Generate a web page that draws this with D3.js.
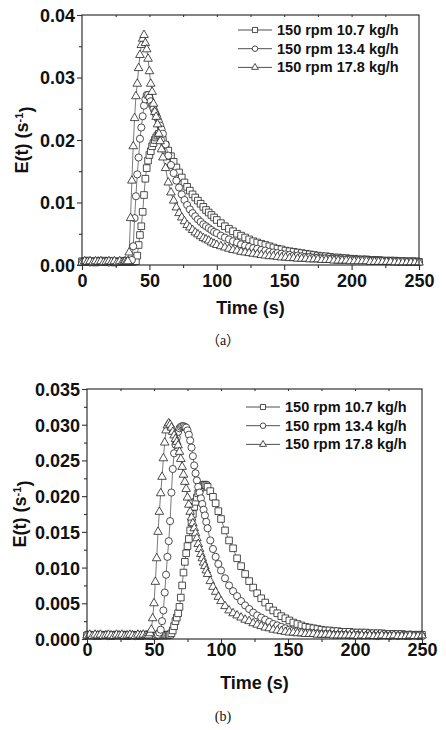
<!DOCTYPE html>
<html>
<head>
<meta charset="utf-8">
<script src="https://cdn.jsdelivr.net/npm/d3@7"></script>
<style>
  body { margin: 0; background: #fff; }
  svg { display: block; }
  text { font-family: "Liberation Sans", Arial, sans-serif; font-weight: bold; fill: #111; }
  .caption { font-family: "Liberation Serif", "Times New Roman", "Noto Sans CJK SC", serif; font-weight: normal; }
</style>
</head>
<body>
<div class="chart"></div>
<script>
// legend labels
var seriesNames = ["150 rpm 10.7 kg/h", "150 rpm 13.4 kg/h", "150 rpm 17.8 kg/h"];

var xTicks = [0, 50, 100, 150, 200, 250];
var yTicksA = [0, 0.01, 0.02, 0.03, 0.04];
var yTicksB = [0, 0.005, 0.010, 0.015, 0.020, 0.025, 0.030, 0.035];

// panel (a): time (s) and E(t) (1/s)
var timeA = [0,2,4,6,8,10,12,14,16,18,20,22,24,26,28,30,
  31,32,33,34,35,36,37,38,39,40,41,42,43,44,45,46,47,48,49,50,51,52,53,54,55,56,57,58,59,60,
  62,64,66,68,70,72,74,76,78,80,82,84,86,88,90,92,94,96,98,100,
  103,106,109,112,115,118,121,124,127,130,133,136,139,142,145,148,151,154,157,160,
  163,166,169,172,175,178,181,184,187,190,193,196,199,202,205,208,211,214,217,220,
  223,226,229,232,235,238,241,244,247,250];

var sqA = [.0006,.0005,.0007,.0005,.0006,.0004,.0006,.0005,.0007,.0005,.0006,.0005,.0004,.0006,.0005,.0006,
  .0005,.0006,.0005,.0005,.0006,.0005,.0006,.0005,.0006,.0006,.0015,.0032,.0048,.0062,.0085,.0112,.0138,.0155,.0167,.0176,.0182,.019,.0195,.02,.0204,.0207,.021,.0207,.0203,.02,
  .0192,.0183,.0174,.0165,.0156,.0148,.014,.0132,.0125,.0119,.0113,.0108,.0103,.0098,.0093,.0088,.0084,.008,.0076,.0072,
  .0067,.0062,.0058,.0054,.005,.0047,.0044,.0041,.0038,.0036,.0034,.0032,.003,.0028,.0026,.0025,.0023,.0022,.0021,.002,
  .0019,.0018,.0017,.0016,.0015,.0014,.0014,.0013,.0012,.0012,.0011,.0011,.001,.001,.0009,.0009,.0009,.0008,.0008,.0008,
  .0007,.0007,.0007,.0007,.0006,.0006,.0006,.0006,.0006,.0005];

var ciA = [.0005,.0006,.0005,.0004,.0006,.0005,.0007,.0005,.0005,.0006,.0004,.0006,.0005,.0005,.0006,.0005,
  .0006,.0005,.0005,.0006,.0005,.0006,.0008,.003,.0075,.011,.0145,.0172,.0202,.022,.0238,.0255,.0265,.0272,.0272,.0268,.0262,.0255,.025,.0245,.024,.0235,.0229,.0223,.0217,.021,
  .0193,.0175,.016,.0147,.0135,.0124,.0113,.0104,.0096,.0089,.0083,.0078,.0073,.0069,.0065,.0062,.0059,.0056,.0053,.0051,
  .0047,.0044,.0041,.0038,.0036,.0033,.0031,.0029,.0027,.0026,.0024,.0023,.0021,.002,.0019,.0018,.0017,.0016,.0015,.0015,
  .0014,.0013,.0013,.0012,.0012,.0011,.0011,.001,.001,.001,.0009,.0009,.0009,.0008,.0008,.0008,.0008,.0007,.0007,.0007,
  .0007,.0006,.0006,.0006,.0006,.0006,.0005,.0005,.0005,.0005];

var trA = [.0004,.0006,.0005,.0006,.0004,.0006,.0005,.0006,.0004,.0005,.0006,.0005,.0006,.0004,.0006,.0005,
  .0005,.0006,.0005,.0006,.002,.0075,.0135,.019,.0235,.027,.029,.0315,.0336,.0352,.0362,.0368,.0355,.0345,.033,.031,.029,.0277,.0258,.0245,.0237,.0225,.021,.0198,.0185,.0172,
  .0155,.0132,.0116,.0103,.0092,.0083,.0076,.007,.0064,.006,.0056,.0052,.0049,.0046,.0043,.0041,.0039,.0036,.0034,.0032,
  .003,.0028,.0026,.0024,.0023,.0021,.002,.0019,.0018,.0017,.0016,.0015,.0014,.0014,.0013,.0012,.0012,.0011,.0011,.001,
  .001,.001,.0009,.0009,.0009,.0008,.0008,.0008,.0007,.0007,.0007,.0007,.0006,.0006,.0006,.0006,.0006,.0005,.0005,.0005,
  .0005,.0005,.0005,.0004,.0004,.0004,.0004,.0004,.0004,.0004];

// panel (b)
var timeB = [0,2,4,6,8,10,12,14,16,18,20,22,24,26,28,30,32,34,36,38,40,42,44,
  45,46,47,48,49,50,51,52,53,54,55,56,57,58,59,60,61,62,63,64,65,66,67,68,69,70,
  71,72,73,74,75,76,77,78,79,80,81,82,83,84,85,86,87,88,89,90,
  92,94,96,98,100,
  103,106,109,112,115,118,121,124,127,130,133,136,139,142,145,148,151,154,157,160,
  163,166,169,172,175,178,181,184,187,190,193,196,199,202,205,208,211,214,217,220,
  223,226,229,232,235,238,241,244,247,250];

var sqB = [.0005,.0006,.0005,.0005,.0004,.0006,.0005,.0006,.0005,.0004,.0005,.0006,.0005,.0005,.0006,.0004,.0005,.0006,.0005,.0005,.0004,.0006,.0005,
  .0005,.0006,.0005,.0005,.0006,.0005,.0004,.0005,.0006,.0005,.0005,.0006,.0005,.0005,.0006,
  .0005,.0006,.0006,.0008,.0012,.0018,.0025,.003,.0036,.0045,.0058,.0075,.0093,.0108,.012,.013,.014,.0152,.0163,.0175,.0185,.0192,.0198,.0204,.0209,.0212,.0215,.0216,.0216,.0215,.0213,
  .0207,.0199,.019,.0179,.0168,
  .0152,.0138,.0127,.0113,.0102,.0091,.0081,.0072,.0064,.0057,.0051,.0045,.004,.0036,.0032,.0029,.0026,.0023,.0021,.0019,
  .0017,.0016,.0015,.0014,.0013,.0012,.0012,.0011,.0011,.001,.001,.001,.0009,.0009,.0009,.0009,.0008,.0008,.0008,.0008,
  .0007,.0007,.0007,.0007,.0007,.0006,.0006,.0006,.0006,.0006];

var ciB = [.0006,.0005,.0005,.0004,.0006,.0005,.0005,.0006,.0004,.0005,.0006,.0005,.0005,.0004,.0006,.0005,.0005,.0006,.0004,.0005,.0006,.0005,.0005,
  .0005,.0006,.0005,.0005,.0006,.0005,.0005,.0006,.0006,.0009,.0013,.0025,.004,.0065,.009,.0115,.0137,.0165,.0205,.0238,.026,.0272,.0282,.029,.0295,.0297,
  .0298,.0298,.0297,.0296,.0292,.0286,.0278,.0268,.0256,.0243,.0232,.0222,.0213,.0205,.0197,.0189,.0181,.0173,.0164,.0155,
  .0138,.0126,.0115,.0105,.0096,
  .0085,.0075,.0067,.006,.0053,.0047,.0042,.0037,.0033,.003,.0027,.0024,.0021,.0019,.0017,.0015,.0013,.0012,.0011,.001,
  .0009,.0009,.0008,.0008,.0007,.0007,.0007,.0006,.0006,.0006,.0006,.0005,.0005,.0006,.0005,.0005,.0005,.0005,.0004,.0005,
  .0005,.0004,.0005,.0004,.0005,.0004,.0004,.0005,.0004,.0004];

var trB = [.0005,.0006,.0004,.0006,.0005,.0006,.0004,.0005,.0006,.0005,.0004,.0006,.0005,.0006,.0004,.0005,.0006,.0005,.0004,.0006,.0005,.0006,.0005,
  .0005,.0005,.0008,.0013,.0029,.005,.008,.0113,.015,.0178,.0204,.0227,.0253,.0275,.0292,.0299,.0302,.03,.0296,.029,.0285,.028,.0276,.0271,.0262,.0252,
  .0241,.023,.022,.021,.0198,.0188,.0178,.017,.0162,.0155,.0148,.0141,.0133,.0126,.0119,.0113,.0107,.0102,.0096,.0091,
  .0081,.0073,.0066,.0059,.0053,
  .0046,.004,.0036,.0033,.003,.0027,.0025,.0022,.002,.0018,.0016,.0015,.0013,.0012,.0011,.001,.0009,.0009,.0008,.0008,
  .0007,.0007,.0007,.0006,.0006,.0006,.0006,.0005,.0005,.0005,.0005,.0005,.0005,.0004,.0005,.0004,.0005,.0004,.0004,.0005,
  .0004,.0004,.0005,.0004,.0004,.0004,.0005,.0004,.0004,.0005];

var symbols = [d3.symbolSquare, d3.symbolCircle, d3.symbolTriangle];
var symbolSize = [44, 40, 32];
var legendSize = [26, 24, 20];

var svg = d3.select(".chart").append("svg")
  .attr("width", 446)
  .attr("height", 730);

drawPanel({
  left: 82, right: 419, top: 15, bottom: 265,
  yMax: 0.04, yTicks: yTicksA, yMinorStep: 0.005, yFormat: ".2f",
  time: timeA, series: [sqA, ciA, trA],
  xLabelY: 287, titleY: 314, yTitleX: 28,
  legendX: 238, legendY: 30,
  caption: "（a）", captionY: 345
});

drawPanel({
  left: 87, right: 422, top: 389, bottom: 639,
  yMax: 0.035, yTicks: yTicksB, yMinorStep: 0.0025, yFormat: ".3f",
  time: timeB, series: [sqB, ciB, trB],
  xLabelY: 656, titleY: 689, yTitleX: 26,
  legendX: 246, legendY: 407,
  caption: "(b)", captionY: 721
});

function drawPanel(p) {
  var x = d3.scaleLinear().domain([0, 250]).range([p.left, p.right]);
  var y = d3.scaleLinear().domain([0, p.yMax]).range([p.bottom, p.top]);
  var g = svg.append("g");

  // data: line then symbols, one series after another
  p.series.forEach(function(vals, i) {
    var pts = p.time.map(function(t, k) { return [t, vals[k]]; });
    g.append("path")
      .datum(pts)
      .attr("fill", "none")
      .attr("stroke", "#222")
      .attr("stroke-width", 0.6)
      .attr("d", d3.line().x(function(d) { return x(d[0]); }).y(function(d) { return y(d[1]); }));
    g.selectAll(".pt" + i)
      .data(pts)
      .enter()
      .append("path")
      .attr("class", "pt" + i)
      .attr("transform", function(d) { return "translate(" + x(d[0]) + "," + y(d[1]) + ")"; })
      .attr("d", d3.symbol().type(symbols[i]).size(symbolSize[i]))
      .attr("fill", "#fff")
      .attr("stroke", "#222")
      .attr("stroke-width", 0.8);
  });

  // frame
  g.append("rect")
    .attr("x", p.left).attr("y", p.top)
    .attr("width", p.right - p.left).attr("height", p.bottom - p.top)
    .attr("fill", "none").attr("stroke", "#333").attr("stroke-width", 1.2);

  // axes
  var bottomAxis = d3.axisBottom(x).tickValues(xTicks).tickSize(5).tickSizeOuter(0).tickFormat(d3.format("d"));
  var xMinor = d3.axisBottom(x).tickValues([25, 75, 125, 175, 225]).tickSize(3).tickSizeOuter(0).tickFormat("");
  var leftAxis = d3.axisLeft(y).tickValues(p.yTicks).tickSize(5).tickSizeOuter(0).tickFormat(d3.format(p.yFormat));
  var minorY = d3.range(p.yMinorStep, p.yMax, p.yMinorStep * 2);
  var yMinor = d3.axisLeft(y).tickValues(minorY).tickSize(3).tickSizeOuter(0).tickFormat("");
  var topTicks = d3.axisBottom(x).tickValues([25, 50, 75, 100, 125, 150, 175, 200, 225]).tickSize(2).tickSizeOuter(0).tickFormat("");

  var xa = g.append("g").attr("transform", "translate(0," + p.bottom + ")").call(bottomAxis);
  g.append("g").attr("transform", "translate(0," + p.bottom + ")").call(xMinor);
  var ya = g.append("g").attr("transform", "translate(" + p.left + ",0)").call(leftAxis);
  g.append("g").attr("transform", "translate(" + p.left + ",0)").call(yMinor);
  g.append("g").attr("transform", "translate(0," + p.top + ")").call(topTicks);

  g.selectAll(".domain").remove();
  g.selectAll(".tick line").attr("stroke", "#333").attr("stroke-width", 1.1);

  xa.selectAll(".tick text")
    .attr("y", null).attr("dy", null)
    .attr("transform", "translate(0," + (p.xLabelY - p.bottom) + ")")
    .style("font-size", "18px").style("font-family", null);
  ya.selectAll(".tick text")
    .attr("x", -7).attr("dy", "0.36em")
    .style("font-size", "18px").style("font-family", null);

  // axis titles
  g.append("text")
    .attr("x", (p.left + p.right) / 2)
    .attr("y", p.titleY)
    .attr("text-anchor", "middle")
    .style("font-size", "18px")
    .text("Time (s)");

  var yt = g.append("text")
    .attr("transform", "translate(" + p.yTitleX + "," + (p.top + p.bottom) / 2 + ") rotate(-90)")
    .attr("text-anchor", "middle")
    .style("font-size", "18px");
  yt.append("tspan").text("E(t) (s");
  yt.append("tspan").attr("dy", "-0.5em").style("font-size", "11px").text("-1");
  yt.append("tspan").attr("dy", "0.5em").text(")");

  // legend
  seriesNames.forEach(function(name, i) {
    var ly = p.legendY + i * 18.7;
    g.append("line")
      .attr("x1", p.legendX).attr("x2", p.legendX + 34)
      .attr("y1", ly).attr("y2", ly)
      .attr("stroke", "#222").attr("stroke-width", 0.8);
    g.append("path")
      .attr("transform", "translate(" + (p.legendX + 17) + "," + ly + ")")
      .attr("d", d3.symbol().type(symbols[i]).size(legendSize[i]))
      .attr("fill", "#fff").attr("stroke", "#222").attr("stroke-width", 0.8);
    g.append("text")
      .attr("x", p.legendX + 39)
      .attr("y", ly + 5)
      .style("font-size", "14.5px")
      .text(name);
  });

  svg.append("text")
    .attr("class", "caption")
    .attr("x", 223)
    .attr("y", p.captionY)
    .attr("text-anchor", "middle")
    .style("font-size", "14px")
    .text(p.caption);
}
</script>
</body>
</html>
